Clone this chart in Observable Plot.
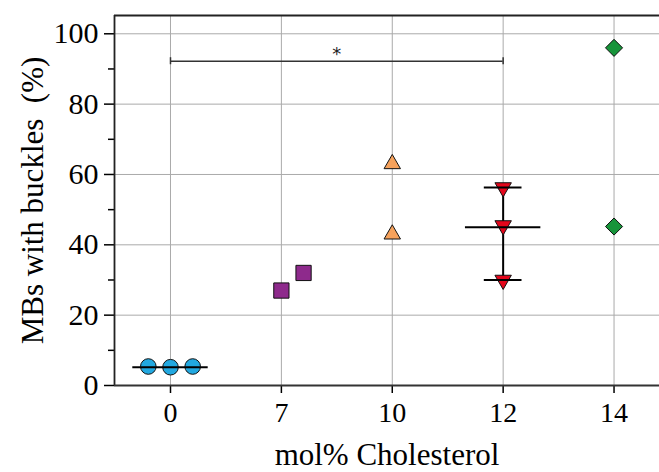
<!DOCTYPE html>
<html><head><meta charset="utf-8">
<script src="https://cdn.jsdelivr.net/npm/d3@7"></script>
<script src="https://cdn.jsdelivr.net/npm/@observablehq/plot@0.6"></script>
<style>body{margin:0;background:#fff} svg{display:block}</style>
</head><body><div id="chart"></div>
<script>
// categories (mol% cholesterol)
const categories = ["0", "7", "10", "12", "14"];
// individual measurements
const groupIndex = [0, 0, 0, 1, 1, 2, 2, 3, 3, 3, 4, 4];
const buckles    = [5.4, 5.2, 5.4, 27, 32, 63, 43, 56.3, 45.5, 30, 96, 45.2];
// mean markers
const meanGroup = [0, 3];
const meanValue = [5.2, 45];
// error range for 12 mol%
const errGroup = [3];
const errLow = [30];
const errHigh = [56.3];
// significance bracket
const sigFrom = 0, sigTo = 3, sigValue = 92.2, sigLabel = "*";
const yTicks = [0, 20, 40, 60, 80, 100];
const yMinor = [10, 30, 50, 70, 90];

// display styling
const jitter = [-0.2, 0, 0.2, 0, 0.2, 0, 0, 0, 0, 0, 0, 0];
const colors = ["#22a8e0", "#8e2a8c", "#f6a25c", "#e3061b", "#17943a"];
const triangleDown = {
  draw(ctx, size) {
    const s = Math.sqrt(size * 4 / Math.sqrt(3));
    const h = s * Math.sqrt(3) / 2;
    ctx.moveTo(-s / 2, -h / 3);
    ctx.lineTo(s / 2, -h / 3);
    ctx.lineTo(0, 2 * h / 3);
    ctx.closePath();
  }
};
const symbols = ["circle", "square", "triangle", triangleDown, "diamond2"];
const radii = [7.8, 8.6, 6.1, 6.1, 7.7];

const rows = buckles.map((v, k) => ({g: groupIndex[k], v, dx: jitter[k]}));
const means = meanValue.map((v, k) => ({g: meanGroup[k], v}));
const errs = errLow.map((lo, k) => ({g: errGroup[k], lo, hi: errHigh[k]}));
const xTickIdx = categories.map((c, i) => i);

const xDomain = [-0.505, 4.41];
const yDomain = [0, 105.2];
const font = "'Liberation Serif', 'Times New Roman', serif";

const chart = Plot.plot({
  width: 659,
  height: 472,
  marginLeft: 114,
  marginRight: 0,
  marginTop: 15,
  marginBottom: 87,
  style: {fontFamily: font, background: "white", color: "black"},
  x: {type: "linear", domain: xDomain},
  y: {domain: yDomain},
  marks: [
    Plot.gridY({ticks: yTicks.slice(1), stroke: "#aaa", strokeOpacity: 1}),
    Plot.gridX({ticks: xTickIdx, stroke: "#aaa", strokeOpacity: 1}),
    Plot.axisY({ticks: yTicks, tickSize: 10, tickFormat: () => "", label: null, strokeWidth: 1.5}),
    Plot.axisY({ticks: yMinor, tickSize: 6, tickFormat: () => "", label: null, strokeWidth: 1.5}),
    Plot.axisX({ticks: xTickIdx, tickSize: 8, tickFormat: () => "", label: null, strokeWidth: 1.5}),
    Plot.text(yTicks, {x: xDomain[0], y: d => d, text: d => String(d), dx: -16, textAnchor: "end", lineAnchor: "middle", fontSize: 30, fontFamily: font, fill: "black"}),
    Plot.text(xTickIdx, {x: d => d, y: 0, text: d => categories[d], dy: 28, textAnchor: "middle", lineAnchor: "middle", fontSize: 28, fontFamily: font, fill: "black"}),
    Plot.ruleY([yDomain[1]], {stroke: "#222", strokeWidth: 1.8}),
    Plot.ruleX([xDomain[0]], {stroke: "#222", strokeWidth: 1.8}),
    Plot.ruleY([0], {stroke: "#333", strokeWidth: 2}),
    // significance bracket
    Plot.ruleY([sigValue], {x1: sigFrom, x2: sigTo, stroke: "#333", strokeWidth: 1.5}),
    Plot.ruleX([sigFrom, sigTo], {y1: sigValue - 1, y2: sigValue + 1, stroke: "#333", strokeWidth: 1.5}),
    Plot.text([sigLabel], {x: (sigFrom + sigTo) / 2, y: sigValue, dy: -7, fontSize: 18, fontFamily: "DejaVu Sans", fill: "#222"}),
    // error bar for 12
    Plot.ruleX(errs, {x: "g", y1: "lo", y2: "hi", stroke: "black", strokeWidth: 2}),
    // points
    ...symbols.map((sym, gi) => Plot.dot(rows.filter(d => d.g === gi), {
      x: d => d.g + d.dx, y: "v", symbol: sym, r: radii[gi],
      fill: colors[gi], stroke: "#111", strokeWidth: 1, fillOpacity: 1
    })),
    Plot.ruleY(errs.flatMap(e => [{g: e.g, v: e.lo}, {g: e.g, v: e.hi}]), {y: "v", x1: d => d.g - 0.17, x2: d => d.g + 0.17, stroke: "black", strokeWidth: 2}),
    Plot.ruleY(means, {y: "v", x1: d => d.g - 0.34, x2: d => d.g + 0.34, stroke: "black", strokeWidth: 2}),
    // axis titles
    Plot.text(["mol% Cholesterol"], {frameAnchor: "bottom", dy: 70, fontSize: 31, fontFamily: font, lineAnchor: "middle", textAnchor: "middle", fill: "black"}),
    Plot.text(["MBs with buckles  (%)"], {frameAnchor: "left", dx: -81, rotate: -90, fontSize: 31, fontFamily: font, lineAnchor: "middle", textAnchor: "middle", fill: "black"})
  ]
});
document.getElementById("chart").appendChild(chart);
</script>
</body></html>
